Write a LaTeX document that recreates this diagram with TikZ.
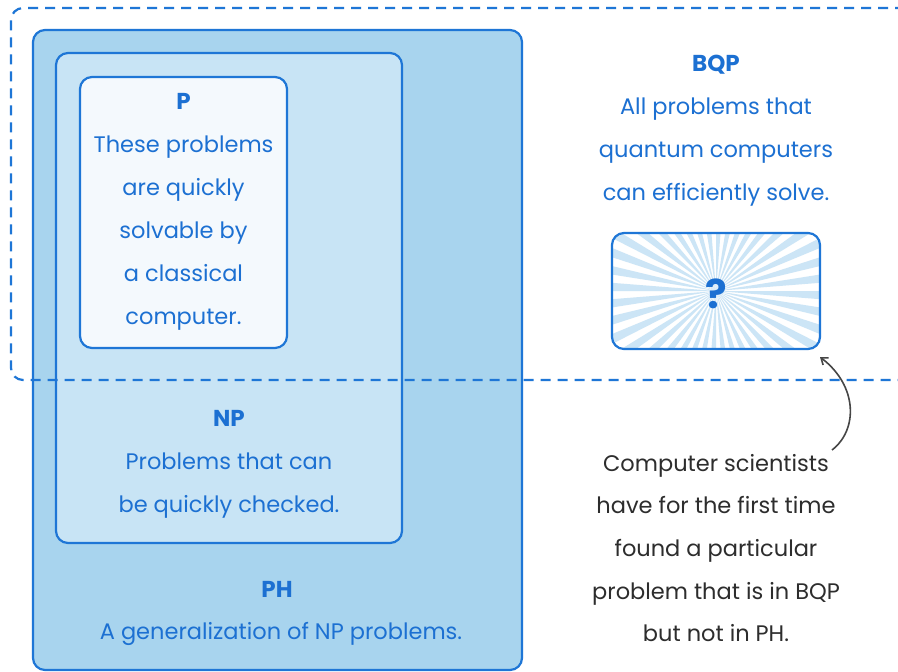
\documentclass[tikz,border=0pt]{standalone}
\usepackage{fontspec}
\setmainfont{Poppins}
\usetikzlibrary{arrows.meta}
\definecolor{bblue}{RGB}{30,118,214}
\definecolor{tblue}{RGB}{28,112,210}
\definecolor{phfill}{RGB}{168,212,238}
\definecolor{npfill}{RGB}{200,228,245}
\definecolor{pfill}{RGB}{244,249,253}
\definecolor{ray}{RGB}{204,229,246}
\definecolor{gtext}{RGB}{45,45,45}
\definecolor{arrowgray}{RGB}{70,70,70}
\tikzset{
  setbox/.style={draw=bblue, line width=2.2pt, rounded corners=12pt, inner sep=0pt},
  bluetext/.style={text=tblue, align=center, font=\fontsize{22.5}{43}\selectfont},
  titletext/.style={text=tblue, font=\fontsize{23}{27}\selectfont\bfseries},
  graytext/.style={text=gtext, align=center, font=\fontsize{22.5}{42.7}\selectfont},
}
\begin{document}
\begin{tikzpicture}[x=1pt,y=-1pt]
\useasboundingbox (0,0) rectangle (898,672);
\fill[white] (0,0) rectangle (898,672);
% PH
\node[setbox, fill=phfill, minimum width=489pt, minimum height=640pt] (ph) at (277.5,350) {};
% NP
\node[setbox, fill=npfill, minimum width=346pt, minimum height=490pt] (np) at (229,298) {};
% P
\node[setbox, fill=pfill, minimum width=207pt, minimum height=271pt] (p) at (183.5,212.5) {};
% BQP box with sunburst
\node[minimum width=208pt, minimum height=116pt, inner sep=0pt] (bqpbox) at (716,291) {};
\begin{scope}
  \clip[rounded corners=12pt] (bqpbox.south west) rectangle (bqpbox.north east);
  \fill[white] (bqpbox.south west) rectangle (bqpbox.north east);
  \foreach \a in {0,9,...,351} {
    \fill[ray] (bqpbox.center) -- +(\a:260) -- +(\a+4.5:260) -- cycle;
  }
\end{scope}
\node[setbox, minimum width=208pt, minimum height=116pt] (bqpframe) at (716,291) {};
\node[text=tblue, font=\fontsize{40}{44}\selectfont\bfseries] (qm) at (716,294) {?};
% dashed BQP region
\begin{scope}
\clip (0,0) rectangle (898,672);
\coordinate (dtr) at (905,8);
\coordinate (dbr) at (905,380);
\draw[bblue, line width=2.2pt, dash pattern=on 10pt off 7pt, rounded corners=12pt]
  (dtr) -- (11,8) -- (11,380) -- (dbr);
\end{scope}
% texts in P
\node[titletext] (ptitle) at (183.5,101) {P};
\node[bluetext, anchor=north] (ptext) at (183.5,132.5) {These problems\\are quickly\\solvable by\\a classical\\computer.};
% NP
\node[titletext] (nptitle) at (229,418) {NP};
\node[bluetext, anchor=north] (nptext) at (229,449.5) {Problems that can\\be quickly checked.};
% PH
\node[titletext] (phtitle) at (277,589) {PH};
\node[bluetext] (phtext) at (281,634) {A generalization of NP problems.};
% BQP
\node[titletext] (bqptitle) at (716,65) {BQP};
\node[bluetext, anchor=north] (bqptext) at (716,94.5) {All problems that\\quantum computers\\can efficiently solve.};
% note
\node[graytext, anchor=north] (note) at (716,450.5) {Computer scientists\\have for the first time\\found a particular\\problem that is in BQP\\but not in PH.};
% arrow
\coordinate (as) at (832,450);
\coordinate (ae) at (820,357);
\draw[arrowgray, line width=1.6pt, -{Straight Barb[length=6pt,width=9pt]}] (as) .. controls (858,430) and (858,386) .. (ae);
\end{tikzpicture}
\end{document}
